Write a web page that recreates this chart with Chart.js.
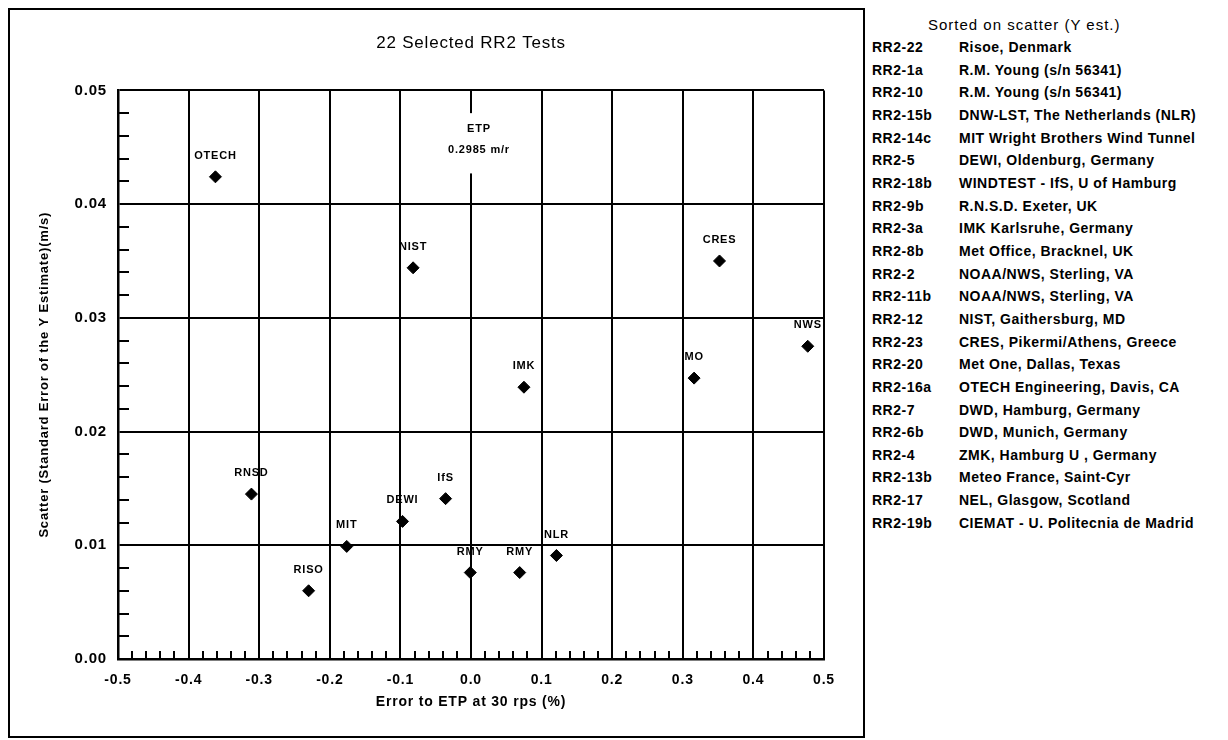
<!DOCTYPE html>
<html>
<head>
<meta charset="utf-8">
<title>22 Selected RR2 Tests</title>
<script src="https://cdn.jsdelivr.net/npm/chart.js@4.4.1/dist/chart.umd.min.js"></script>
<style>
  body { margin: 0; background: #fff; }
  #chart { position: absolute; left: 0; top: 0; }
  #frame { position: absolute; left: 8px; top: 8px; width: 857px; height: 730px;
           border: 2px solid #000; box-sizing: border-box; pointer-events: none; }
  #list { position: absolute; left: 872px; top: 14px; color: #000;
          font-family: "Liberation Sans", Arial, Helvetica, sans-serif; }
  #list .head { font-size: 15px; line-height: 22px; padding-left: 56px; letter-spacing: 1px; }
  #list .row { font-size: 14px; font-weight: bold; line-height: 22.65px; letter-spacing: 0.5px; white-space: nowrap; }
  #list .code { display: inline-block; width: 87px; }
</style>
</head>
<body>
<canvas id="chart" width="860" height="740"></canvas>
<div id="frame"></div>
<div id="list"></div>
<script>
// points on the chart
var pointNames = ['OTECH', 'NIST', 'CRES', 'NWS', 'MO', 'IMK', 'RNSD', 'IfS', 'DEWI', 'MIT', 'RISO', 'RMY', 'RMY', 'NLR'];
var errorToEtp = [-0.362, -0.082, 0.352, 0.477, 0.316, 0.075, -0.311, -0.036, -0.097, -0.176, -0.230, -0.001, 0.069, 0.121];
var scatterYEst = [0.0424, 0.0344, 0.0350, 0.0275, 0.0247, 0.0239, 0.0145, 0.0141, 0.0121, 0.0099, 0.0060, 0.0076, 0.0076, 0.0091];

// axes
var xTicks = [-0.5, -0.4, -0.3, -0.2, -0.1, 0.0, 0.1, 0.2, 0.3, 0.4, 0.5];
var yTicks = [0.00, 0.01, 0.02, 0.03, 0.04, 0.05];

// list on the right, sorted on scatter
var testCodes = ['RR2-22', 'RR2-1a', 'RR2-10', 'RR2-15b', 'RR2-14c', 'RR2-5', 'RR2-18b', 'RR2-9b', 'RR2-3a', 'RR2-8b', 'RR2-2',
                 'RR2-11b', 'RR2-12', 'RR2-23', 'RR2-20', 'RR2-16a', 'RR2-7', 'RR2-6b', 'RR2-4', 'RR2-13b', 'RR2-17', 'RR2-19b'];
var testNames = ['Risoe, Denmark', 'R.M. Young (s/n 56341)', 'R.M. Young (s/n 56341)', 'DNW-LST, The Netherlands (NLR)',
                 'MIT Wright Brothers Wind Tunnel', 'DEWI, Oldenburg, Germany', 'WINDTEST - IfS, U of Hamburg',
                 'R.N.S.D. Exeter, UK', 'IMK Karlsruhe, Germany', 'Met Office, Bracknel, UK', 'NOAA/NWS, Sterling, VA',
                 'NOAA/NWS, Sterling, VA', 'NIST, Gaithersburg, MD', 'CRES, Pikermi/Athens, Greece', 'Met One, Dallas, Texas',
                 'OTECH Engineering, Davis, CA', 'DWD, Hamburg, Germany', 'DWD, Munich, Germany', 'ZMK, Hamburg U , Germany',
                 'Meteo France, Saint-Cyr', 'NEL, Glasgow, Scotland', 'CIEMAT - U. Politecnia de Madrid'];

var fontFam = '"Liberation Sans", Arial, Helvetica, sans-serif';

// build the list
var list = document.getElementById('list');
var head = document.createElement('div');
head.className = 'head';
head.textContent = 'Sorted on scatter (Y est.)';
list.appendChild(head);
testCodes.forEach(function (code, i) {
    var row = document.createElement('div');
    row.className = 'row';
    var c = document.createElement('span');
    c.className = 'code';
    c.textContent = code;
    row.appendChild(c);
    row.appendChild(document.createTextNode(testNames[i]));
    list.appendChild(row);
});

// minor tick values: 4 between each pair of majors
function minorsOf(majors) {
    var out = [];
    for (var i = 0; i < majors.length - 1; i++) {
        var step = (majors[i + 1] - majors[i]) / 5;
        for (var k = 1; k < 5; k++) out.push(majors[i] + k * step);
    }
    return out;
}
var xMinor = minorsOf(xTicks);
var yMinor = minorsOf(yTicks);

var spacing = {
    id: 'spacing',
    beforeDraw: function (chart) { chart.ctx.letterSpacing = '0.8px'; }
};

var minorTicks = {
    id: 'minorTicks',
    afterDatasetsDraw: function (chart) {
        var ctx = chart.ctx, x = chart.scales.x, y = chart.scales.y;
        ctx.save();
        ctx.strokeStyle = '#000';
        ctx.lineWidth = 2;
        ctx.beginPath();
        yMinor.forEach(function (v) {
            var py = Math.round(y.getPixelForValue(v));
            ctx.moveTo(x.left, py);
            ctx.lineTo(x.left + 11, py);
        });
        xMinor.forEach(function (v) {
            var px = Math.round(x.getPixelForValue(v));
            ctx.moveTo(px, y.bottom);
            ctx.lineTo(px, y.bottom - 8);
        });
        ctx.stroke();
        ctx.restore();
    }
};

// ETP note sitting on the x = 0 line
var etpNote = {
    id: 'etpNote',
    afterDatasetsDraw: function (chart) {
        var ctx = chart.ctx, x = chart.scales.x, y = chart.scales.y;
        var x0 = x.getPixelForValue(0);
        var yTop = y.getPixelForValue(0.0480);
        var yBot = y.getPixelForValue(0.0427);
        ctx.save();
        ctx.fillStyle = '#fff';
        ctx.fillRect(x0 - 3, yTop, 6, yBot - yTop);
        ctx.fillStyle = '#000';
        ctx.font = 'bold 11px ' + fontFam;
        ctx.textAlign = 'center';
        ctx.textBaseline = 'middle';
        ctx.fillText('ETP', x0 + 8, y.getPixelForValue(0.0466));
        ctx.fillText('0.2985 m/r', x0 + 8, y.getPixelForValue(0.0448));
        ctx.restore();
    }
};

var pointLabels = {
    id: 'pointLabels',
    afterDatasetsDraw: function (chart) {
        var ctx = chart.ctx;
        var meta = chart.getDatasetMeta(0);
        ctx.save();
        ctx.fillStyle = '#000';
        ctx.font = 'bold 11px ' + fontFam;
        ctx.textAlign = 'center';
        ctx.textBaseline = 'middle';
        meta.data.forEach(function (pt, i) {
            ctx.fillText(pointNames[i], pt.x, pt.y - 21);
        });
        ctx.restore();
    }
};

var ctx = document.getElementById('chart').getContext('2d');
new Chart(ctx, {
    type: 'scatter',
    data: {
        datasets: [{
            data: errorToEtp.map(function (v, i) { return { x: v, y: scatterYEst[i] }; }),
            pointStyle: 'rectRot',
            radius: 6,
            hoverRadius: 6,
            backgroundColor: '#000',
            borderColor: '#000',
            borderWidth: 1
        }]
    },
    options: {
        responsive: false,
        animation: false,
        devicePixelRatio: 1,
        layout: { padding: { top: 0, right: 36, bottom: 21, left: 0 } },
        plugins: {
            legend: { display: false },
            tooltip: { enabled: false },
            title: {
                display: true,
                fullSize: false,
                text: '22 Selected RR2 Tests',
                color: '#000',
                font: { family: fontFam, size: 17, weight: 'normal' },
                padding: { top: 33, bottom: 37 }
            }
        },
        scales: {
            x: {
                type: 'linear',
                min: -0.5,
                max: 0.5,
                afterBuildTicks: function (scale) { scale.ticks = xTicks.map(function (v) { return { value: v }; }); },
                afterFit: function (scale) { scale.height = 60; },
                grid: { color: '#000', lineWidth: 2, drawTicks: false },
                border: { color: '#000', width: 2.5 },
                ticks: {
                    color: '#000',
                    padding: 13,
                    maxRotation: 0,
                    autoSkip: false,
                    font: { family: fontFam, size: 14, weight: 'bold' },
                    callback: function (v) { return Number(v).toFixed(1); }
                },
                title: {
                    display: true,
                    text: 'Error to ETP at 30 rps (%)',
                    color: '#000',
                    font: { family: fontFam, size: 14, weight: 'bold' },
                    padding: { top: 0, bottom: 8 }
                }
            },
            y: {
                type: 'linear',
                min: 0,
                max: 0.05,
                afterBuildTicks: function (scale) { scale.ticks = yTicks.map(function (v) { return { value: v }; }); },
                afterFit: function (scale) { scale.width = 118; },
                grid: { color: '#000', lineWidth: 2, drawTicks: false },
                border: { color: '#000', width: 2.5 },
                ticks: {
                    color: '#000',
                    padding: 11,
                    autoSkip: false,
                    font: { family: fontFam, size: 15, weight: 'bold' },
                    callback: function (v) { return Number(v).toFixed(2); }
                },
                title: {
                    display: true,
                    text: 'Scatter (Standard Error of the Y Estimate)(m/s)',
                    color: '#000',
                    font: { family: fontFam, size: 13, weight: 'bold' },
                    padding: { top: 37, bottom: 0 }
                }
            }
        }
    },
    plugins: [spacing, minorTicks, etpNote, pointLabels]
});
</script>
</body>
</html>
